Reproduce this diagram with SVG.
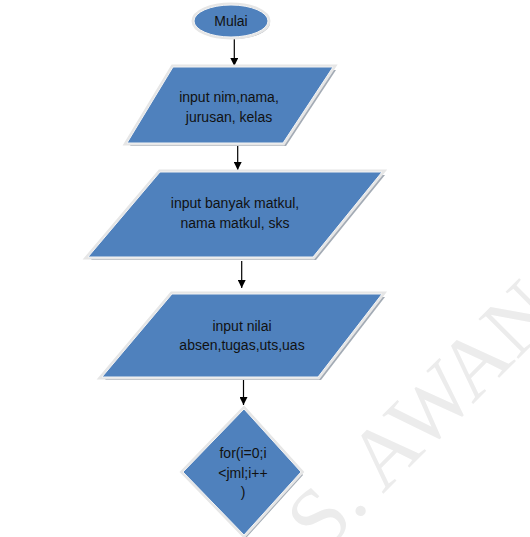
<svg xmlns="http://www.w3.org/2000/svg" width="530" height="537" viewBox="0 0 530 537">
<defs>
<style>
.shadow{fill:#a3abb5;}
.rim{fill:none;stroke:#e6e6e6;stroke-width:5;stroke-linejoin:miter;}
.body{fill:#4f81bd;stroke:#f4f4f4;stroke-width:1;}
.lbl{font-family:"Liberation Sans",Arial,sans-serif;font-size:14px;fill:#111;text-anchor:middle;}
.conn{stroke:#000;stroke-width:1.2;fill:none;marker-end:url(#ah);}
.wm{font-family:"Liberation Serif","Times New Roman",serif;font-size:86px;fill:#ececec;}
</style>
<marker id="ah" viewBox="0 0 10 10" refX="10" refY="5" markerWidth="8" markerHeight="8" markerUnits="userSpaceOnUse" orient="auto">
<path d="M0,0 L10,5 L0,10 Z" fill="#000"/>
</marker>
</defs>
<rect width="530" height="537" fill="#fff"/>
<text class="wm" x="322" y="555" transform="rotate(-45 322 555)">S. AWAN</text>

<g id="connectors">
<line class="conn" x1="234.3" y1="39" x2="234.3" y2="66"/>
<line class="conn" x1="237.7" y1="145" x2="237.7" y2="170"/>
<line class="conn" x1="241.7" y1="261" x2="241.7" y2="288"/>
<line class="conn" x1="243.5" y1="380" x2="243.5" y2="405"/>
</g>

<g id="start">
<ellipse class="shadow" cx="233" cy="23" rx="37" ry="16"/>
<ellipse class="rim" cx="231" cy="21" rx="37" ry="16"/>
<ellipse class="body" cx="231" cy="21" rx="37" ry="16"/>
<text class="lbl" x="231" y="26">Mulai</text>
</g>

<g id="input1">
<polygon class="shadow" points="176,70 336,70 286,146 130,146"/>
<polygon class="rim" points="173,67 333,67 283,143 127,143"/>
<polygon class="body" points="173,67 333,67 283,143 127,143"/>
<text class="lbl" x="229" y="102">input nim,nama,</text>
<text class="lbl" x="229" y="122">jurusan, kelas</text>
</g>

<g id="input2">
<polygon class="shadow" points="163,175 385,175 316,260 91,260"/>
<polygon class="rim" points="160,172 382,172 313,257 88,257"/>
<polygon class="body" points="160,172 382,172 313,257 88,257"/>
<text class="lbl" x="235" y="208">input banyak matkul,</text>
<text class="lbl" x="235" y="228">nama matkul, sks</text>
</g>

<g id="input3">
<polygon class="shadow" points="175,297 385,297 321,380 105,380"/>
<polygon class="rim" points="172,294 382,294 318,377 102,377"/>
<polygon class="body" points="172,294 382,294 318,377 102,377"/>
<text class="lbl" x="242" y="331">input nilai</text>
<text class="lbl" x="242" y="350">absen,tugas,uts,uas</text>
</g>

<g id="loop">
<polygon class="shadow" points="246,412 303,475 246,538 185,475"/>
<polygon class="rim" points="244,409 301,472 244,535 183,472"/>
<polygon class="body" points="244,409 301,472 244,535 183,472"/>
<text class="lbl" x="243" y="458">for(i=0;i</text>
<text class="lbl" x="243" y="478">&lt;jml;i++</text>
<text class="lbl" x="243" y="497">)</text>
</g>
</svg>
